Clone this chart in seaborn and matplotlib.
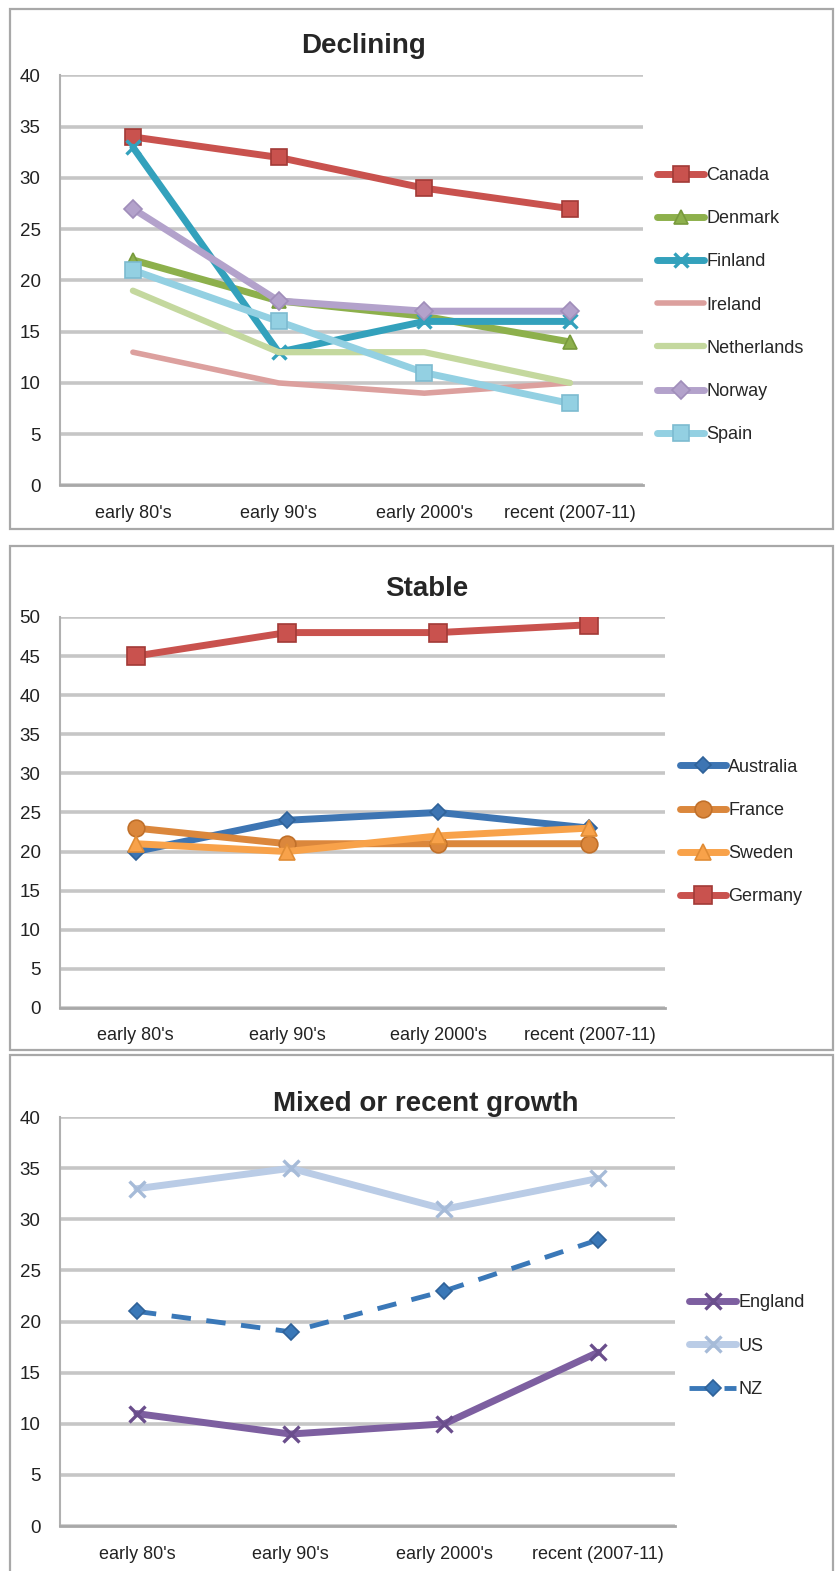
import pandas as pd
import seaborn as sns
from matplotlib import pyplot as plt
from matplotlib.patches import Rectangle

periods = ["early 80's", "early 90's", "early 2000's", "recent (2007-11)"]

# Declining
canada = [34, 32, 29, 27]
denmark = [22, 18, 16.5, 14]
finland = [33, 13, 16, 16]
ireland = [13, 10, 9, 10]
netherlands = [19, 13, 13, 10]
norway = [27, 18, 17, 17]
spain = [21, 16, 11, 8]

# Stable
australia = [20, 24, 25, 23]
france = [23, 21, 21, 21]
sweden = [21, 20, 22, 23]
germany = [45, 48, 48, 49]

# Mixed or recent growth
england = [11, 9, 10, 17]
us = [33, 35, 31, 34]
nz = [21, 19, 23, 28]

sns.set_theme(style="white")
plt.rcParams['font.family'] = ['Liberation Sans Narrow', 'Liberation Sans', 'DejaVu Sans']

fig = plt.figure(figsize=(8.35, 15.71), dpi=100)

# (name, values, color, edge, marker, markersize, linewidth, linestyle)
panel1 = [
    ('Canada', canada, '#C9524E', '#A23A37', 's', 12, 5, '-'),
    ('Denmark', denmark, '#8DB04C', '#789A3C', '^', 10, 5, '-'),
    ('Finland', finland, '#33A1BC', '#33A1BC', 'x', 10, 5, '-'),
    ('Ireland', ireland, '#DCA09E', '#DCA09E', None, 0, 4, '-'),
    ('Netherlands', netherlands, '#C4D89E', '#C4D89E', None, 0, 4.5, '-'),
    ('Norway', norway, '#B3A2CB', '#A08EBA', 'D', 9, 5, '-'),
    ('Spain', spain, '#93D0E2', '#7DBBD0', 's', 12, 5, '-'),
]
panel2 = [
    ('Australia', australia, '#3D75B3', '#2F6299', 'D', 8, 5, '-'),
    ('France', france, '#DB873C', '#C0702A', 'o', 12, 5, '-'),
    ('Sweden', sweden, '#F8A24A', '#E08C35', '^', 12, 5, '-'),
    ('Germany', germany, '#C9524E', '#A23A37', 's', 13, 5, '-'),
]
panel3 = [
    ('England', england, '#7D5FA0', '#6A4E8C', 'x', 11, 5, '-'),
    ('US', us, '#BACCE6', '#A6BBD8', 'x', 11, 5, '-'),
    ('NZ', nz, '#3A78B8', '#2F6299', 'D', 8, 3.5, (0, (4, 3.2))),
]

panels = [
    ('Declining', panel1, [0.0719, 0.6910, 0.698, 0.2610], 40, (0.435, 0.971), 0.44),
    ('Stable', panel2, [0.0719, 0.3584, 0.7246, 0.2489], 50, (0.511, 0.625), 0.45),
    ('Mixed or recent growth', panel3, [0.0719, 0.0286, 0.7365, 0.2603], 40, (0.510, 0.297), 0.44),
]

frames = [(0.6633, 0.9943), (0.3316, 0.6525), (-0.01, 0.3284)]
for y0, y1 in frames:
    fig.add_artist(Rectangle((0.012, y0), 0.986, y1 - y0, transform=fig.transFigure,
                             fill=False, ec='#A8A8A8', lw=1.6))

for (title, series, rect, ymax, tpos, legy) in panels:
    ax = fig.add_axes(rect)
    for name, vals, color, edge, marker, ms, lw, ls in series:
        df = pd.DataFrame({'period': periods, 'value': vals})
        sns.lineplot(data=df, x='period', y='value', ax=ax, sort=False, color=color,
                     marker=marker, markersize=ms, lw=lw, linestyle=ls, label=name,
                     markeredgecolor=edge,
                     markeredgewidth=1.2 if marker != 'x' else 2.4)
    ax.set_xlim(-0.5, 3.5)
    ax.set_ylim(0, ymax)
    ax.set_yticks(range(0, ymax + 1, 5))
    ax.set_xticks([-0.5, 0.5, 1.5, 2.5, 3.5], minor=False)
    ax.set_xticklabels([])
    ax.set_xticks([0, 1, 2, 3], minor=True)
    ax.set_xticklabels(periods, minor=True)
    ax.tick_params(axis='x', which='major', length=7, width=1.5, color='#A0A0A0', direction='out')
    ax.tick_params(axis='x', which='minor', length=0, pad=14, labelsize=13, labelcolor='#222222')
    ax.tick_params(axis='y', length=0, pad=14, labelsize=13.5, labelcolor='#222222')
    ax.yaxis.grid(True, color='#C6C6C6', lw=2.6)
    ax.set_axisbelow(True)
    for side in ['top', 'right']:
        ax.spines[side].set_visible(False)
    ax.spines['left'].set_color('#B0B0B0')
    ax.spines['bottom'].set_color('#A8A8A8')
    ax.spines['left'].set_linewidth(1.5)
    ax.spines['bottom'].set_linewidth(2)
    ax.set_xlabel('')
    ax.set_ylabel('')
    ax.legend(loc='center left', bbox_to_anchor=(1.0, legy), frameon=False, fontsize=13,
              labelspacing=1.45, handlelength=2.6, handletextpad=0.1, borderaxespad=0.4)
    fig.text(tpos[0], tpos[1], title, ha='center', va='center', fontsize=20, fontweight='bold')

fig.savefig('out.png', dpi=100)
